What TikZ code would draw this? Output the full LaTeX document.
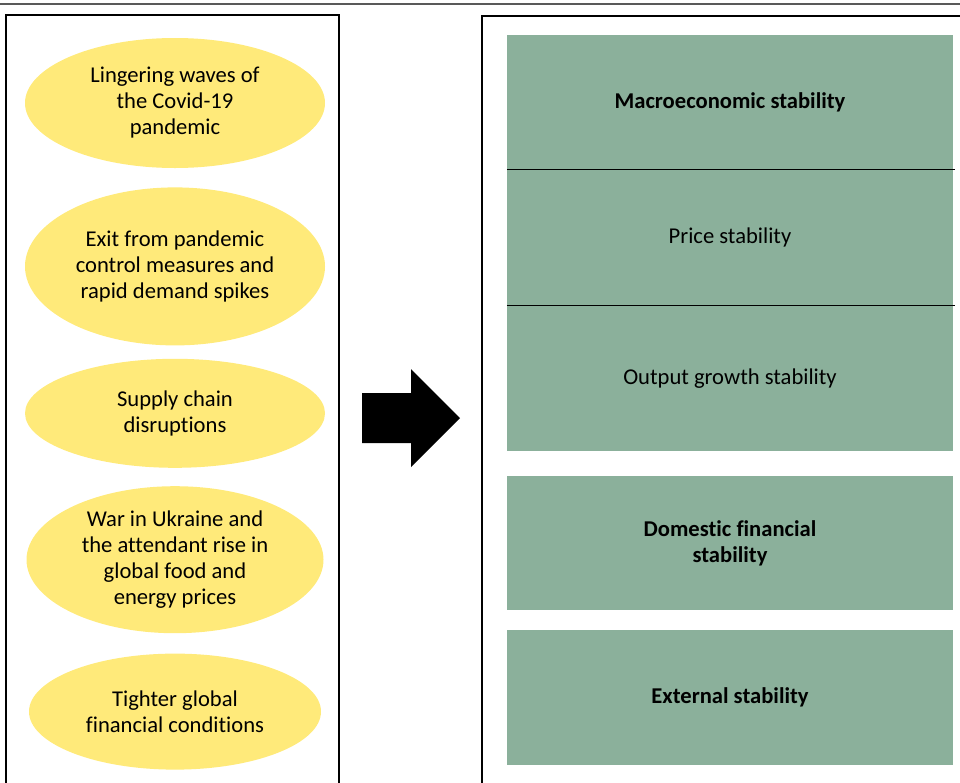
\documentclass[tikz,border=0pt]{standalone}
\usepackage{fontspec}
\setmainfont[Ligatures=NoCommon]{Carlito}
\usetikzlibrary{positioning,shapes.geometric}

\definecolor{causeyellow}{RGB}{255,234,122}
\definecolor{goalgreen}{RGB}{139,176,155}

\tikzset{
  cause/.style={ellipse, fill=causeyellow, minimum width=300pt, inner sep=0pt, align=center},
  goal/.style={rectangle, fill=goalgreen, minimum width=446pt, inner sep=0pt, align=center},
  frame/.style={line width=1.5pt},
}

\begin{document}
\begin{tikzpicture}[x=1pt, y=-1pt, font=\fontsize{22.6}{26}\selectfont]
  \useasboundingbox (0,0) rectangle (960,782);

  % frames
  \draw[gray!70!black, line width=1.2pt] (0,4) -- (960,4);
  \draw[frame] (6,790) -- (6,15) -- (339,15) -- (339,790);
  \draw[frame] (482,790) -- (482,16) -- (965,16);

  % shocks
  \node (wave) [cause, minimum height=130pt] at (175,103)
    {Lingering waves of\\the Covid-19\\pandemic};
  \node (exit) [cause, minimum height=158pt, below=19pt of wave]
    {Exit from pandemic\\control measures and\\rapid demand spikes};
  \node (supply) [cause, minimum height=109pt, below=13pt of exit]
    {Supply chain\\disruptions};
  \node (war) [cause, minimum width=297pt, minimum height=147pt, below=18pt of supply]
    {War in Ukraine and\\the attendant rise in\\global food and\\energy prices};
  \node (tight) [cause, minimum width=292pt, minimum height=116pt, below=20pt of war]
    {Tighter global\\financial conditions};

  % arrow
  \fill (362,393) -- (411,393) -- (411,369) -- (460,418) -- (411,467) -- (411,443) -- (362,443) -- cycle;

  % stability goals
  \node (macro) [goal, minimum height=134pt] at (730,102) {\textbf{Macroeconomic stability}};
  \node (price) [goal, minimum height=136pt, below=0pt of macro] {Price stability};
  \node (output) [goal, minimum height=145pt, below=0pt of price] {Output growth stability};
  \node (domestic) [goal, minimum height=134pt, below=25pt of output]
    {\textbf{Domestic financial}\\\textbf{stability}};
  \node (external) [goal, minimum height=135pt, below=19pt of domestic] {\textbf{External stability}};

  \draw[line width=1.2pt] (macro.south west) -- ([xshift=2pt]macro.south east);
  \draw[line width=1.2pt] (price.south west) -- ([xshift=2pt]price.south east);
\end{tikzpicture}
\end{document}
